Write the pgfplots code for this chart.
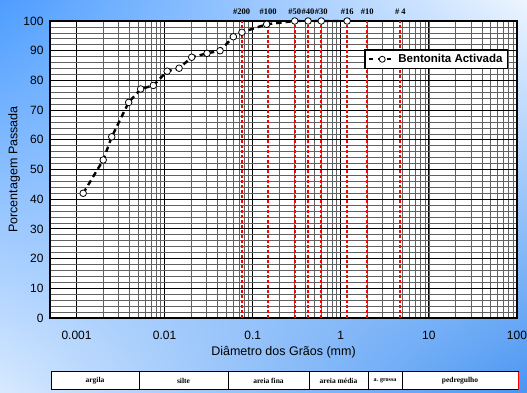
\documentclass[border=0pt]{standalone}
\usepackage{pgfplots}
\pgfplotsset{compat=1.18}
\usetikzlibrary{shadings}
\usepackage{fontspec}
\setmainfont{Liberation Sans}
\newfontfamily\serifb{Liberation Serif}
\definecolor{bgblue}{RGB}{77,157,255}

\begin{document}
\begin{tikzpicture}
\shade[upper left=bgblue, lower right=bgblue!95!black, upper right=bgblue!10, lower left=bgblue!22] (0pt,0pt) rectangle (527pt,393pt);
\begin{axis}[
  at={(50pt,75pt)}, anchor=south west,
  width=467pt, height=297pt, scale only axis,
  xmode=log, xmin=0.0005, xmax=100,
  ymin=0, ymax=100,
  ytick={0,10,...,100}, minor y tick num=4,
  xtick={0.001,0.01,0.1,1,10,100},
  xticklabels={0.001,0.01,0.1,1,10,100},
  /pgf/number format/assume math mode=true,
  grid=both,
  major grid style={black, line width=0.9pt},
  minor grid style={black!62, line width=0.7pt},
  axis line style={black, line width=1.4pt},
  axis background/.style={fill=white},
  tick style={draw=none},
  xticklabel style={yshift=-10pt, font=\fontsize{12}{14}\selectfont},
  yticklabel style={xshift=-3pt, font=\fontsize{12}{14}\selectfont},
  xlabel={Diâmetro dos Grãos (mm)},
  ylabel={Porcentagem Passada},
  xlabel style={at={(axis description cs:0.5,-0.1145)}, anchor=center, font=\fontsize{12.5}{14}\selectfont},
  ylabel style={at={(axis description cs:-0.077,0.5)}, anchor=center, font=\fontsize{12.5}{14}\selectfont},
  clip=false,
  legend style={at={(0.981,0.905)}, anchor=north east, draw=black, line width=1.3pt, fill=white,
    font=\bfseries\fontsize{11.5}{13}\selectfont, inner xsep=3pt, inner ysep=2.5pt},
  legend cell align=left,
]
\addplot[red, line width=1.9pt, dash pattern=on 3pt off 2pt, forget plot] coordinates {(0.075,0) (0.075,100)};
\addplot[red, line width=1.9pt, dash pattern=on 3pt off 2pt, forget plot] coordinates {(0.15,0) (0.15,100)};
\addplot[red, line width=1.9pt, dash pattern=on 3pt off 2pt, forget plot] coordinates {(0.3,0) (0.3,100)};
\addplot[red, line width=1.9pt, dash pattern=on 3pt off 2pt, forget plot] coordinates {(0.425,0) (0.425,100)};
\addplot[red, line width=1.9pt, dash pattern=on 3pt off 2pt, forget plot] coordinates {(0.6,0) (0.6,100)};
\addplot[red, line width=1.9pt, dash pattern=on 3pt off 2pt, forget plot] coordinates {(1.18,0) (1.18,100)};
\addplot[red, line width=1.9pt, dash pattern=on 3pt off 2pt, forget plot] coordinates {(2.0,0) (2.0,100)};
\addplot[red, line width=1.9pt, dash pattern=on 3pt off 2pt, forget plot] coordinates {(4.75,0) (4.75,100)};
\node[font=\serifb\bfseries\fontsize{8.5}{9}\selectfont] at (axis cs:0.075,100) [yshift=9pt] {\#200};
\node[font=\serifb\bfseries\fontsize{8.5}{9}\selectfont] at (axis cs:0.15,100) [yshift=9pt] {\#100};
\node[font=\serifb\bfseries\fontsize{8.5}{9}\selectfont] at (axis cs:0.3,100) [yshift=9pt] {\#50};
\node[font=\serifb\bfseries\fontsize{8.5}{9}\selectfont] at (axis cs:0.425,100) [yshift=9pt] {\#40};
\node[font=\serifb\bfseries\fontsize{8.5}{9}\selectfont] at (axis cs:0.6,100) [yshift=9pt] {\#30};
\node[font=\serifb\bfseries\fontsize{8.5}{9}\selectfont] at (axis cs:1.18,100) [yshift=9pt] {\#16};
\node[font=\serifb\bfseries\fontsize{8.5}{9}\selectfont] at (axis cs:2.0,100) [yshift=9pt] {\#10};
\node[font=\serifb\bfseries\fontsize{8.5}{9}\selectfont] at (axis cs:4.75,100) [yshift=9pt] {\# 4};

\pgfplotstableread{
x y
0.00119 42.0
0.00201 53.2
0.00251 61.0
0.00391 72.6
0.00535 77.1
0.00745 78.3
0.0107 83.1
0.0146 84.1
0.0203 87.8
0.0303 89.1
0.0426 90.0
0.0603 94.7
0.0755 96.2
0.144 98.9
0.3 100
0.425 100
0.6 100
1.18 100
}\datatab
\addplot[only marks, mark=*, mark size=3.3pt, mark options={draw=black, fill=white, line width=0.8pt}, forget plot] table {\datatab};
\addplot[black, line width=2.4pt, dash pattern=on 5.5pt off 4pt, no marks, forget plot] table {\datatab};
\addlegendimage{legend image code/.code={
  \draw[black, line width=2.2pt, dash pattern=on 4pt off 5pt] (-2pt,0pt) -- (24pt,0pt);
  \draw[black, line width=0.8pt, fill=white] (11pt,0pt) circle (3pt);
}}
\addlegendentry{Bentonita Activada}
\end{axis}
% classification table
\draw[line width=1pt, fill=white] (51pt,3pt) rectangle (518pt,21pt);
\foreach \xx in {139,228,309,368,402}{\draw[line width=1pt] (\xx pt,3pt) -- (\xx pt,21pt);}
\draw[red, line width=1pt] (518pt,3pt) -- (518pt,21pt);
\begin{scope}[every node/.style={font=\serifb\bfseries\fontsize{7.5}{8}\selectfont}]
\node at (95pt,12pt) {argila};
\node at (183.5pt,12pt) {silte};
\node at (268.5pt,12pt) {areia fina};
\node at (338.5pt,12pt) {areia média};
\node[font=\serifb\bfseries\fontsize{6}{7}\selectfont] at (385pt,12pt) {a. grossa};
\node at (460pt,12pt) {pedregulho};
\end{scope}
\pgfresetboundingbox
\path (0pt,0pt) rectangle (527pt,393pt);
\end{tikzpicture}
\end{document}
